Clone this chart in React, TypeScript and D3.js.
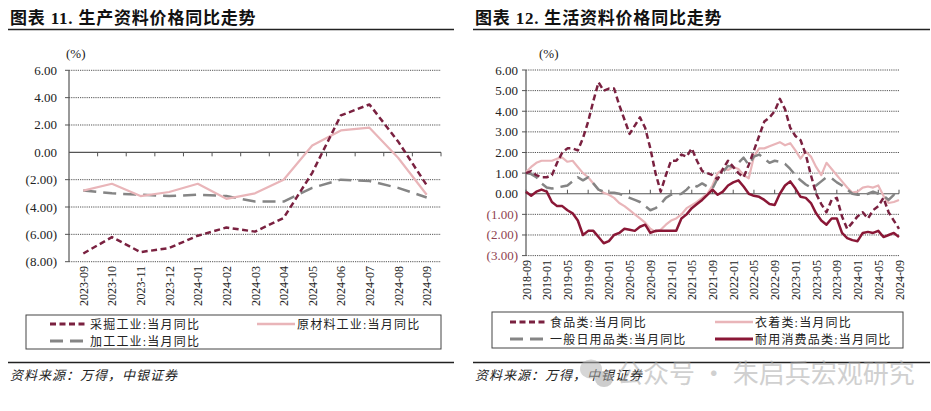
import { useEffect, useRef } from "react";
import * as d3 from "d3";

// 图表 11 — 生产资料
const leftMonths = [
  "2023-09", "2023-10", "2023-11", "2023-12", "2024-01", "2024-02", "2024-03",
  "2024-04", "2024-05", "2024-06", "2024-07", "2024-08", "2024-09",
];
const mining = [-7.4, -6.2, -7.3, -7.0, -6.1, -5.5, -5.8, -4.8, -1.5, 2.7, 3.5, 0.8, -2.4];
const rawMaterial = [-2.8, -2.3, -3.2, -2.9, -2.3, -3.4, -3.0, -2.0, 0.5, 1.6, 1.8, -0.4, -3.1];
const processing = [-2.8, -3.0, -3.1, -3.2, -3.1, -3.2, -3.6, -3.6, -2.6, -2.0, -2.1, -2.6, -3.3];
const leftTicks = [6, 4, 2, 0, -2, -4, -6, -8];

// 图表 12 — 生活资料, monthly 2018-09 .. 2024-09
const rightMonths = d3
  .timeMonth.range(new Date(2018, 8, 1), new Date(2024, 9, 1))
  .map(d3.timeFormat("%Y-%m"));
const food = [
  1.0, 1.1, 0.9, 0.8, 0.8, 0.9, 1.5, 2.0, 2.2, 2.2, 2.1, 2.7, 3.5, 4.5, 5.4, 5.0,
  5.1, 5.1, 4.3, 3.6, 2.9, 3.3, 3.7, 3.2, 2.2, 1.0, 0.1, 0.9, 1.6, 1.6, 1.9, 1.8,
  2.2, 1.6, 1.1, 1.0, 0.9, 0.7, 1.2, 1.6, 1.3, 1.0, 0.8, 1.4, 2.1, 2.8, 3.5, 3.7,
  4.0, 4.6, 4.1, 3.2, 2.8, 2.6, 1.9, 0.9, 0.0, -0.5, -0.9, -0.3, -0.2, -1.1, -1.7, -1.4,
  -1.1, -0.9, -1.2, -0.8, -0.6, -0.2, -0.9, -1.3, -1.7,
];
const clothing = [
  1.05, 1.3, 1.5, 1.6, 1.6, 1.6, 1.7, 1.75, 1.55, 1.6, 1.3, 1.0, 0.8, 0.5, 0.2, 0.05,
  -0.05, -0.2, -0.45, -0.6, -0.8, -1.0, -1.2, -1.4, -1.7, -1.85, -1.75, -1.5, -1.3, -1.2, -1.0, -0.7,
  -0.55, -0.4, -0.2, 0.0, 0.4, 1.0, 1.2, 1.15, 1.3, 1.2, 0.9, 0.75, 1.8, 2.2, 2.2, 2.3,
  2.4, 2.5, 2.35, 2.45, 2.1, 1.7, 2.05, 1.8, 1.3, 0.9, 1.5, 1.2, 0.9, 0.6, 0.3, 0.05,
  0.1, 0.3, 0.35, 0.3, 0.4, -0.1, -0.45, -0.4, -0.3,
];
const dailyUse = [
  1.0, 0.95, 0.8, 0.5, 0.3, 0.25, 0.3, 0.35, 0.4, 0.6, 0.8, 0.65, 0.8, 0.5, 0.2, 0.1,
  0.05, 0.05, 0.0, -0.1, -0.2, -0.3, -0.4, -0.6, -0.8, -0.7, -0.5, -0.2, -0.05, -0.05, 0.0, 0.2,
  0.45, 0.35, 0.5, 0.35, 0.25, 0.75, 1.05, 1.35, 1.3, 1.5, 1.75, 1.4, 1.8, 1.9, 1.7, 1.5,
  1.6, 1.55, 1.45, 1.2, 0.9, 0.65, 0.45, 0.3, 0.4, 0.6, 0.8, 0.75, 0.55, 0.4, 0.2, 0.0,
  -0.05, -0.05, 0.0, 0.1, 0.0, -0.1, -0.3, -0.05, -0.2,
];
const durable = [
  0.1, -0.1, 0.1, 0.2, 0.1, -0.4, -0.6, -0.6, -0.8, -0.95, -1.3, -2.0, -1.8, -1.8, -2.1, -2.4,
  -2.3, -2.0, -1.9, -1.7, -1.75, -1.8, -1.6, -1.5, -1.9, -1.8, -1.8, -1.8, -1.8, -1.8, -1.2, -1.0,
  -0.7, -0.5, -0.3, -0.05, 0.2, -0.05, 0.1, 0.4, 0.55, 0.65, 0.35, 0.0, -0.1, -0.15, -0.3, -0.5,
  -0.55, 0.0, 0.4, 0.6, 0.25, -0.15, -0.2, -0.45, -0.95, -1.3, -1.5, -1.2, -1.2, -1.9, -2.15, -2.25,
  -2.3, -1.9, -1.85, -1.9, -1.8, -2.1, -2.0, -1.9, -2.1,
];
const rightTicks = [6, 5, 4, 3, 2, 1, 0, -1, -2, -3];

const serif = "'Liberation Serif','Times New Roman',serif";
const cjk = "'Liberation Serif','Noto Sans CJK SC',sans-serif";
const maroon = "#7a2140";
const pink = "#e9b5b9";
const gray = "#858585";
const crimson = "#8a1736";

const fmt = (v: number) => (v < 0 ? `(${Math.abs(v).toFixed(2)})` : v.toFixed(2));

type Series = { name: string; values: number[]; color: string; width: number; dash: string | null };

const App = () => {
  const ref = useRef<SVGSVGElement | null>(null);

  useEffect(() => {
    if (!ref.current) return;
    const svg = d3.select(ref.current);
    svg.selectAll("*").remove();

    // frame: titles, rules, source
    const frame = (x0: number, x1: number, title: string) => {
      svg.append("text").attr("x", x0 + 2).attr("y", 24)
        .attr("font-family", cjk).attr("font-size", 17).attr("font-weight", "bold")
        .attr("letter-spacing", 0.8).attr("fill", "#111").text(title);
      svg.append("line").attr("x1", x0).attr("x2", x1).attr("y1", 29.5).attr("y2", 29.5)
        .attr("stroke", "#222").attr("stroke-width", 1.5);
      svg.append("line").attr("x1", x0).attr("x2", x1).attr("y1", 362.5).attr("y2", 362.5)
        .attr("stroke", "#222").attr("stroke-width", 1.5);
      svg.append("text").attr("x", x0 + 2).attr("y", 380)
        .attr("font-family", cjk).attr("font-size", 13).attr("font-style", "italic")
        .attr("letter-spacing", 1).attr("fill", "#222").text("资料来源：万得，中银证券");
    };
    frame(8, 454, "图表 11. 生产资料价格同比走势");
    frame(473, 930, "图表 12. 生活资料价格同比走势");

    const drawLines = (
      g: d3.Selection<SVGGElement, unknown, null, undefined>,
      series: Series[],
      xPos: (i: number) => number,
      y: d3.ScaleLinear<number, number>,
    ) => {
      series.forEach(s => {
        const line = d3.line<number>().x((_, i) => xPos(i)).y(d => y(d));
        g.append("path").attr("d", line(s.values))
          .attr("fill", "none").attr("stroke", s.color).attr("stroke-width", s.width)
          .attr("stroke-dasharray", s.dash).attr("stroke-linejoin", "round");
      });
    };

    const legend = (
      box: { x: number; y: number; w: number; h: number },
      items: { s: Series; x: number; y: number }[],
    ) => {
      svg.append("rect").attr("x", box.x).attr("y", box.y).attr("width", box.w).attr("height", box.h)
        .attr("fill", "#fff").attr("stroke", "#444").attr("stroke-width", 1);
      items.forEach(({ s, x, y }) => {
        svg.append("line").attr("x1", x).attr("x2", x + 38).attr("y1", y).attr("y2", y)
          .attr("stroke", s.color).attr("stroke-width", s.width + 0.5).attr("stroke-dasharray", s.dash);
        svg.append("text").attr("x", x + 40).attr("y", y + 4.5)
          .attr("font-family", cjk).attr("font-size", 12).attr("letter-spacing", 1.2)
          .attr("fill", "#222").text(s.name);
      });
    };

    // ---------- left chart ----------
    {
      const left = 69, right = 441;
      const x = d3.scaleBand().domain(leftMonths).range([left, right]);
      const y = d3.scaleLinear().domain([-8, 6]).range([261.7, 70.3]);
      const g = svg.append("g");

      leftTicks.forEach(t => {
        if (t === 0) return;
        g.append("line").attr("x1", left).attr("x2", right).attr("y1", y(t)).attr("y2", y(t))
          .attr("stroke", "#555").attr("stroke-width", 1).attr("stroke-dasharray", "1.2,1");
        g.append("line").attr("x1", left - 4).attr("x2", left).attr("y1", y(t)).attr("y2", y(t))
          .attr("stroke", "#555");
      });
      leftTicks.forEach(t => {
        g.append("text").attr("x", 57).attr("y", y(t) + 4.5).attr("text-anchor", "end")
          .attr("font-family", serif).attr("font-size", 13).attr("fill", "#222").text(fmt(t));
      });
      g.append("text").attr("x", 66).attr("y", 58).attr("font-family", serif)
        .attr("font-size", 13).attr("fill", "#222").text("(%)");
      g.append("line").attr("x1", left).attr("x2", left).attr("y1", y(6)).attr("y2", y(-8))
        .attr("stroke", "#555").attr("stroke-width", 1.2);
      g.append("line").attr("x1", left).attr("x2", right).attr("y1", y(0)).attr("y2", y(0))
        .attr("stroke", "#555").attr("stroke-width", 1.2);
      leftMonths.forEach(m => {
        const xb = x(m)! + x.bandwidth();
        g.append("line").attr("x1", xb).attr("x2", xb).attr("y1", y(0)).attr("y2", y(0) + 4)
          .attr("stroke", "#555");
        const xc = x(m)! + x.bandwidth() / 2;
        g.append("text").attr("transform", `translate(${xc + 4.5},266) rotate(-90)`)
          .attr("text-anchor", "end").attr("font-family", serif).attr("font-size", 12)
          .attr("fill", "#222").text(m);
      });

      const series: Series[] = [
        { name: "采掘工业:当月同比", values: mining, color: maroon, width: 2.5, dash: "6,3.5" },
        { name: "原材料工业:当月同比", values: rawMaterial, color: pink, width: 2.2, dash: null },
        { name: "加工工业:当月同比", values: processing, color: gray, width: 2.5, dash: "13,7" },
      ];
      drawLines(g, [series[2], series[1], series[0]], i => x(leftMonths[i])! + x.bandwidth() / 2, y);

      legend({ x: 26, y: 315, w: 415, h: 34 }, [
        { s: series[0], x: 50, y: 324 },
        { s: series[1], x: 257, y: 324 },
        { s: series[2], x: 50, y: 341 },
      ]);
    }

    // ---------- right chart ----------
    {
      const left = 526, right = 899;
      const x = d3.scalePoint().domain(rightMonths).range([left, right]);
      const y = d3.scaleLinear().domain([-3, 6]).range([255.6, 70]);
      const g = svg.append("g");

      rightTicks.forEach(t => {
        if (t === 0) return;
        g.append("line").attr("x1", left).attr("x2", right).attr("y1", y(t)).attr("y2", y(t))
          .attr("stroke", "#555").attr("stroke-width", 1).attr("stroke-dasharray", "1.2,1");
        g.append("line").attr("x1", left - 4).attr("x2", left).attr("y1", y(t)).attr("y2", y(t))
          .attr("stroke", "#555");
      });
      rightTicks.forEach(t => {
        g.append("text").attr("x", 518).attr("y", y(t) + 4.5).attr("text-anchor", "end")
          .attr("font-family", serif).attr("font-size", 13)
          .attr("fill", t < 0 ? "#8e3f50" : "#222").text(fmt(t));
      });
      g.append("text").attr("x", 539).attr("y", 58).attr("font-family", serif)
        .attr("font-size", 13).attr("fill", "#222").text("(%)");
      g.append("line").attr("x1", left).attr("x2", left).attr("y1", y(6)).attr("y2", y(-3))
        .attr("stroke", "#555").attr("stroke-width", 1.2);
      g.append("line").attr("x1", left).attr("x2", right).attr("y1", y(0)).attr("y2", y(0))
        .attr("stroke", "#555").attr("stroke-width", 1.2);
      rightMonths.forEach((m, i) => {
        if (i % 4 !== 0) return;
        const xp = x(m)!;
        g.append("line").attr("x1", xp).attr("x2", xp).attr("y1", y(0)).attr("y2", y(0) - 4)
          .attr("stroke", "#555");
        g.append("text").attr("transform", `translate(${xp + 4.5},260) rotate(-90)`)
          .attr("text-anchor", "end").attr("font-family", serif).attr("font-size", 12)
          .attr("fill", "#222").text(m);
      });

      const series: Series[] = [
        { name: "食品类:当月同比", values: food, color: maroon, width: 2.5, dash: "6,3.5" },
        { name: "衣着类:当月同比", values: clothing, color: pink, width: 2.2, dash: null },
        { name: "一般日用品类:当月同比", values: dailyUse, color: gray, width: 2.5, dash: "13,7" },
        { name: "耐用消费品类:当月同比", values: durable, color: crimson, width: 2.5, dash: null },
      ];
      drawLines(g, [series[1], series[2], series[3], series[0]], i => x(rightMonths[i])!, y);

      legend({ x: 492, y: 312, w: 411, h: 36 }, [
        { s: series[0], x: 510, y: 322 },
        { s: series[1], x: 715, y: 322 },
        { s: series[2], x: 510, y: 339 },
        { s: series[3], x: 715, y: 339 },
      ]);
    }

    // watermark
    const wm = svg.append("g").attr("opacity", 0.55);
    wm.append("ellipse").attr("cx", 591).attr("cy", 369).attr("rx", 11).attr("ry", 9.5).attr("fill", "#b5b5b5");
    wm.append("ellipse").attr("cx", 604).attr("cy", 379).attr("rx", 9).attr("ry", 8).attr("fill", "#a5a5a5");
    wm.append("text").attr("x", 617).attr("y", 383).attr("font-family", "'Noto Sans CJK SC',sans-serif")
      .attr("font-size", 26).attr("fill", "#aaa").text("公众号 · 朱启兵宏观研究");
  }, []);

  return (
    <svg ref={ref} width={931} height={411}
      style={{ position: "absolute", left: 0, top: 0, background: "#fff" }} />
  );
};

export default App;
